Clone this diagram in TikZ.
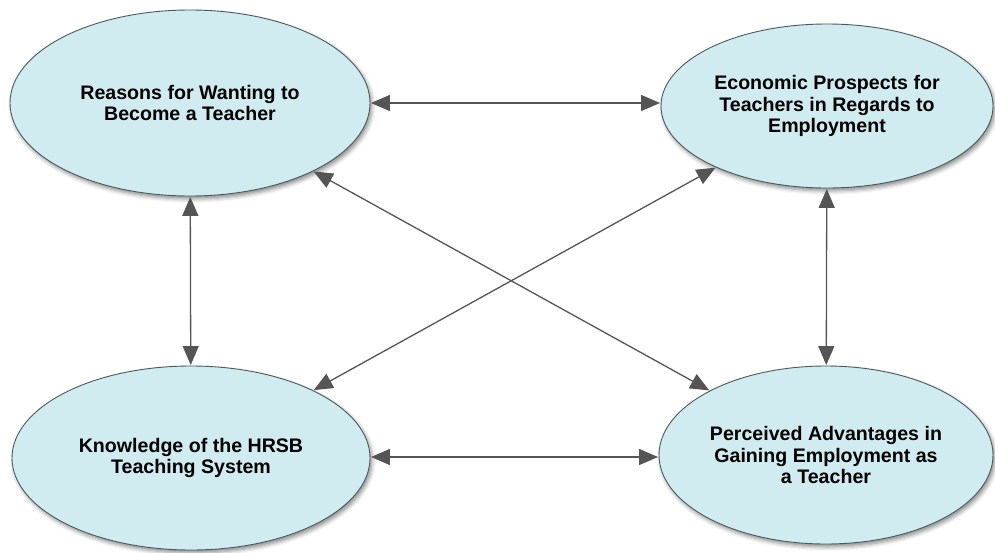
\documentclass[tikz,border=0pt]{standalone}
\usepackage{fontspec}
\setmainfont{Liberation Sans}
\usetikzlibrary{shapes.geometric,arrows.meta,shadows.blur}
\definecolor{ellfill}{HTML}{D1ECF1}
\definecolor{ellline}{HTML}{4A5A5C}
\definecolor{arr}{HTML}{555555}
\tikzset{
  topic/.style={ellipse, draw=ellline, line width=0.9pt, fill=ellfill, inner sep=0pt,
    align=center, font=\fontsize{19.6}{21.5}\selectfont\bfseries,
    blur shadow={shadow xshift=2pt, shadow yshift=-3pt, shadow blur radius=4pt, shadow opacity=45}},
  link/.style={draw=arr, line width=1.3pt, {Triangle[length=19pt,width=16pt]}-{Triangle[length=19pt,width=16pt]}, shorten <=0.5pt, shorten >=0.5pt}
}
\begin{document}
\begin{tikzpicture}[x=1pt,y=-1pt]
\useasboundingbox (0,0) rectangle (995,552);
\node[topic, minimum width=360pt, minimum height=186pt] (a) at (190,103) {Reasons for Wanting to\\Become a Teacher};
\node[topic, minimum width=332pt, minimum height=164pt] (b) at (827,106) {Economic Prospects for\\Teachers in Regards to\\Employment};
\node[topic, minimum width=358pt, minimum height=184pt] (c) at (191,458) {Knowledge of the HRSB\\Teaching System};
\node[topic, minimum width=334pt, minimum height=178pt] (d) at (826,455) {Perceived Advantages in\\Gaining Employment as\\a Teacher};
\draw[link] (a.east |- 0,103) -- (b.west |- 0,103);
\draw[link] (c.east |- 0,457) -- (d.west |- 0,457);
\draw[link] (a) -- (c);
\draw[link] (b) -- (d);
\draw[link] (a) -- (d);
\draw[link] (b) -- (c);
\end{tikzpicture}
\end{document}
